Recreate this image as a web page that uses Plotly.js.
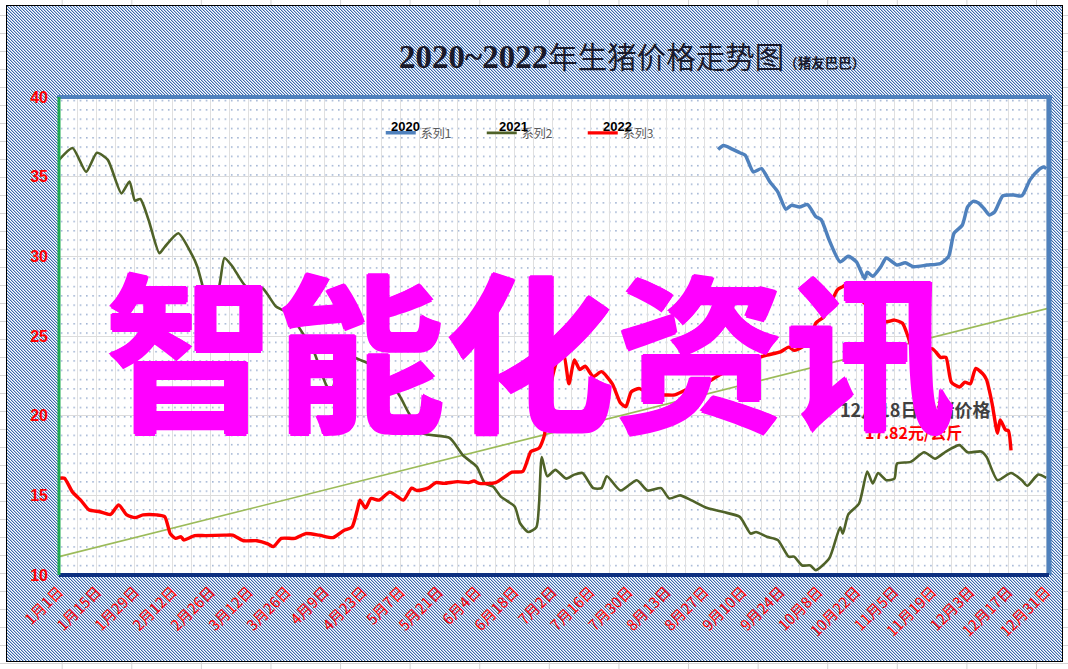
<!DOCTYPE html>
<html><head><meta charset="utf-8">
<script src="https://cdn.plot.ly/plotly-3.0.1.min.js"></script>
<style>
html,body{margin:0;padding:0;width:1068px;height:669px;overflow:hidden;background:#fff;}
#bg{position:absolute;left:0;top:0;width:1068px;height:669px;
 background-image:linear-gradient(to right,#d4d4d4 1px,transparent 1px),linear-gradient(to bottom,#d4d4d4 1px,transparent 1px);
 background-size:69.6px 100%,100% 18px;background-position:61.7px 0,0 15px;}
#frame{position:absolute;left:6px;top:5px;width:1055px;height:655px;border:1px solid #000;background-color:#fff;
 background-repeat:repeat;background-size:3px 3px;image-rendering:pixelated;}
#chart{position:absolute;left:0;top:0;width:1068px;height:669px;}
</style></head>
<body>
<div id="bg"></div><div id="frame"></div><div id="chart"></div>
<script>
// ---- data ----
const xTickDays = [0,14,28,42,56,70,84,98,112,126,140,154,168,182,196,210,224,238,252,266,280,294,308,322,336,350,364];
const xTickLabels = ['1月1日','1月15日','1月29日','2月12日','2月26日','3月12日','3月26日','4月9日','4月23日','5月7日','5月21日','6月4日','6月18日','7月2日','7月16日','7月30日','8月13日','8月27日','9月10日','9月24日','10月8日','10月22日','11月5日','11月19日','12月3日','12月17日','12月31日'];

const days2020 = [243,245,248,251,253,256,259,262,265,268,270,273,276,279,281,284,288,291,294,297,298,300,303,305,309,312,315,320,325,328,330,333,335,337,339,341,343,345,348,352,355,358,361,363,364];
const price2020 = [36.7,36.95,36.75,36.5,36.35,35.3,35.5,34.7,34.05,32.95,33.2,33.1,33.25,32.5,32.3,31.0,29.65,30.0,29.65,28.6,29.0,28.75,29.35,29.9,29.45,29.6,29.35,29.45,29.55,30.0,31.45,31.95,33.1,33.45,33.35,33.0,32.6,32.8,33.8,33.85,33.8,34.8,35.4,35.6,35.5];

const days2021 = [0,5,10,14,18,23,26,28,30,33,37,39,44,49,51,53,54,56,59,61,64,69,75,80,85,89,94,99,101,104,111,115,125,129,134,144,149,154,157,160,163,168,170,173,176,177,178,180,183,187,190,193,197,200,202,207,213,217,222,225,229,233,239,245,251,255,257,261,265,269,271,274,277,279,284,288,289,291,295,298,300,302,305,308,309,314,319,323,327,332,335,340,342,346,351,355,357,361,364];
const price2021 = [36.05,36.8,35.3,36.5,36.05,33.95,34.7,33.5,33.6,32.3,30.2,30.6,31.45,30.1,29.35,28.1,27.5,27.3,28.1,29.9,29.35,28.1,28.0,26.85,26.4,25.4,24.0,21.8,21.8,23.9,23.5,23.2,21.4,20.15,18.9,18.6,17.5,16.8,15.75,15.55,14.9,14.3,13.25,12.7,13.0,14.5,17.4,16.2,16.6,16.05,16.3,16.4,15.45,15.45,16.2,15.3,15.95,15.3,15.45,14.8,15.0,14.7,14.2,13.95,13.65,12.6,12.7,12.4,12.2,11.15,11.15,10.6,10.6,10.3,11.05,13.0,12.6,13.8,14.5,16.5,15.75,16.4,15.95,16.05,17.0,17.1,17.7,17.3,17.75,18.15,17.7,17.75,17.4,15.95,16.4,15.95,15.6,16.3,16.1];

const days2022 = [0,2,5,8,11,15,19,22,25,28,31,36,39,41,43,45,46,50,54,61,64,68,73,77,79,82,87,91,96,101,105,108,110,111,113,115,118,122,127,130,132,136,139,142,147,151,153,155,161,167,171,174,177,179,180,182,184,186,188,190,192,194,197,200,204,207,209,211,214,219,223,227,231,236,244,253,261,266,269,271,274,277,279,282,284,287,289,291,294,298,302,305,308,311,313,315,322,325,327,329,332,334,336,338,341,342,344,346,347,349,350,351];
const price2022 = [16.07,16.07,15.2,14.7,14.1,13.97,13.8,14.4,13.77,13.6,13.77,13.77,13.66,12.6,12.3,12.4,12.2,12.47,12.47,12.5,12.5,12.15,12.15,11.95,11.78,12.3,12.3,12.6,12.5,12.35,12.8,13.0,14.1,14.7,14.2,14.8,14.7,15.2,14.7,15.45,15.3,15.45,15.8,15.75,15.86,15.8,15.9,15.75,15.8,16.45,16.5,17.75,17.96,18.8,20.5,22.5,23.6,23.9,22.0,23.5,22.9,23.1,22.45,22.76,22.0,20.8,20.56,21.5,21.7,21.2,21.3,21.3,21.6,21.8,22.6,23.4,23.8,24.0,24.3,24.1,24.3,24.75,25.8,26.2,26.85,27.9,28.1,28.3,27.6,26.9,26.4,25.9,26.0,25.8,24.97,24.1,24.2,23.66,23.66,22.1,21.8,22.1,22.0,22.96,22.55,22.24,20.78,18.9,19.73,19.1,19.06,17.82];

const trendDays = [0, 365];
const trendPrice = [11.15, 26.75];

const seriesNames = ['系列1','系列2','系列3'];
const yearLabels = ['2020','2021','2022'];

// ---- hatch tile for the chart area (outer) ----
const hatchSvg = "<svg xmlns='http://www.w3.org/2000/svg' width='3' height='3' shape-rendering='crispEdges'>" +
 "<rect width='3' height='3' fill='#ffffff'/>" +
 "<rect x='0' y='0' width='1' height='1' fill='#3a69ae'/><rect x='1' y='1' width='1' height='1' fill='#3a69ae'/><rect x='2' y='2' width='1' height='1' fill='#3a69ae'/>" +
 "<rect x='1' y='0' width='1' height='1' fill='#b4c8e4'/><rect x='2' y='1' width='1' height='1' fill='#b4c8e4'/><rect x='0' y='2' width='1' height='1' fill='#b4c8e4'/></svg>";
document.getElementById('frame').style.backgroundImage = 'url("data:image/svg+xml;charset=utf-8,' + encodeURIComponent(hatchSvg) + '")';

// ---- dotted plot-area background ----
const dotsSvg = "<svg xmlns='http://www.w3.org/2000/svg' width='990' height='478'>" +
 "<defs><pattern id='p' width='6.3' height='9.3' patternUnits='userSpaceOnUse'>" +
 "<rect x='2' y='3' width='1.2' height='1.2' fill='#5b7cb3'/></pattern></defs>" +
 "<rect width='990' height='478' fill='#ffffff'/><rect width='990' height='478' fill='url(#p)'/></svg>";
const dotsUri = 'data:image/svg+xml;charset=utf-8,' + encodeURIComponent(dotsSvg);

const traces = [
 {x: trendDays, y: trendPrice, type:'scatter', mode:'lines', line:{color:'#9bbb59', width:1.6}, showlegend:false, hoverinfo:'skip'},
 {x: days2020, y: price2020, name: seriesNames[0], type:'scatter', mode:'lines', line:{color:'#4f81bd', width:3.5, shape:'spline', smoothing:0.6}},
 {x: days2021, y: price2021, name: seriesNames[1], type:'scatter', mode:'lines', line:{color:'#4f6228', width:2.6, shape:'spline', smoothing:0.6}},
 {x: days2022, y: price2022, name: seriesNames[2], type:'scatter', mode:'lines', line:{color:'#ff0000', width:3.4, shape:'spline', smoothing:0.6}}
];

const cjk = 'Noto Sans CJK SC, sans-serif';
const wmShadow = '1.5px 0 0 #ff00ff, -1.5px 0 0 #ff00ff, 0 1.5px 0 #ff00ff, 0 -1.5px 0 #ff00ff';
const layout = {
 width:1068, height:669,
 margin:{l:59, r:19, t:97, b:94},
 paper_bgcolor:'rgba(0,0,0,0)', plot_bgcolor:'rgba(0,0,0,0)',
 xaxis:{range:[0,365], tickmode:'array', tickvals:xTickDays, ticktext:xTickLabels, tickangle:-45,
   tickfont:{color:'#ff0000', size:15, family:cjk}, showgrid:true, gridcolor:'#e0e0e0', gridwidth:1,
   minor:{tickmode:'linear', tick0:0, dtick:7, showgrid:true, gridcolor:'#e0e0e0', gridwidth:1},
   zeroline:false, showline:false, ticks:'', ticklabelstandoff:4},
 yaxis:{range:[10,40], tickmode:'linear', tick0:10, dtick:5,
   tickfont:{color:'#ff0000', size:16, family:'Liberation Sans, Arial, sans-serif', weight:'bold'},
   showgrid:true, gridcolor:'#dcdcdc', gridwidth:1, zeroline:false, showline:false, ticks:'', ticklabelstandoff:10},
 legend:{orientation:'h', x:0.325, y:0.925, xanchor:'left', yanchor:'middle', bgcolor:'rgba(0,0,0,0)',
   font:{family:cjk, size:12, color:'#595959'}, entrywidth:56, entrywidthmode:'pixels', itemwidth:30, tracegroupgap:0},
 images:[{source:dotsUri, xref:'paper', yref:'paper', x:0, y:1, sizex:1, sizey:1, sizing:'stretch', layer:'below', xanchor:'left', yanchor:'top'}],
 shapes:[
  {type:'line', xref:'paper', yref:'paper', x0:-0.002, x1:1.003, y0:1, y1:1, line:{color:'#4f81bd', width:4}},
  {type:'line', xref:'paper', yref:'paper', x0:1, x1:1, y0:0, y1:1.004, line:{color:'#4f81bd', width:5}},
  {type:'line', xref:'paper', yref:'paper', x0:0, x1:1, y0:0, y1:0, line:{color:'#0c2f7f', width:4}},
  {type:'line', xref:'paper', yref:'paper', x0:0, x1:0, y0:0, y1:1, line:{color:'#1fab4f', width:3}}
 ],
 annotations:[
  {text:"<b><span style='font-size:33px'>2020~2022</span></b>年生猪价格走势图<span style='font-size:13.5px'><b>（猪友巴巴）</b></span>", xref:'paper', yref:'paper',
   x:0.3414, y:1.0837, xanchor:'left', yanchor:'middle', showarrow:false,
   font:{family:'Liberation Serif, Noto Sans CJK SC, serif', size:29.5, color:'#1a1a2a'}},
  {text:'<b>'+yearLabels[0]+'</b>', xref:'paper', yref:'paper', x:0.3495, y:0.939, xanchor:'center', yanchor:'middle', showarrow:false, font:{family:'Liberation Sans, Arial', size:13, color:'#000'}},
  {text:'<b>'+yearLabels[1]+'</b>', xref:'paper', yref:'paper', x:0.4586, y:0.939, xanchor:'center', yanchor:'middle', showarrow:false, font:{family:'Liberation Sans, Arial', size:13, color:'#000'}},
  {text:'<b>'+yearLabels[2]+'</b>', xref:'paper', yref:'paper', x:0.5646, y:0.939, xanchor:'center', yanchor:'middle', showarrow:false, font:{family:'Liberation Sans, Arial', size:13, color:'#000'}},
  {text:'<b>12月18日生猪价格</b>', xref:'paper', yref:'paper', x:0.8646, y:0.347, xanchor:'center', yanchor:'middle', showarrow:false, font:{family:cjk, size:18, color:'#404040'}},
  {text:'<b>17.82元/公斤</b>', xref:'paper', yref:'paper', x:0.8636, y:0.299, xanchor:'center', yanchor:'middle', showarrow:false, font:{family:cjk, size:16, color:'#ff0000'}},
  {text:'<b>智能化资讯</b>', xref:'paper', yref:'paper', x:0.4758, y:0.482, xanchor:'center', yanchor:'middle', showarrow:false,
   font:{family:cjk, size:170, color:'#ff00ff', shadow:wmShadow}}
 ]
};
Plotly.newPlot('chart', traces, layout, {displayModeBar:false, staticPlot:true});
</script>
</body></html>
